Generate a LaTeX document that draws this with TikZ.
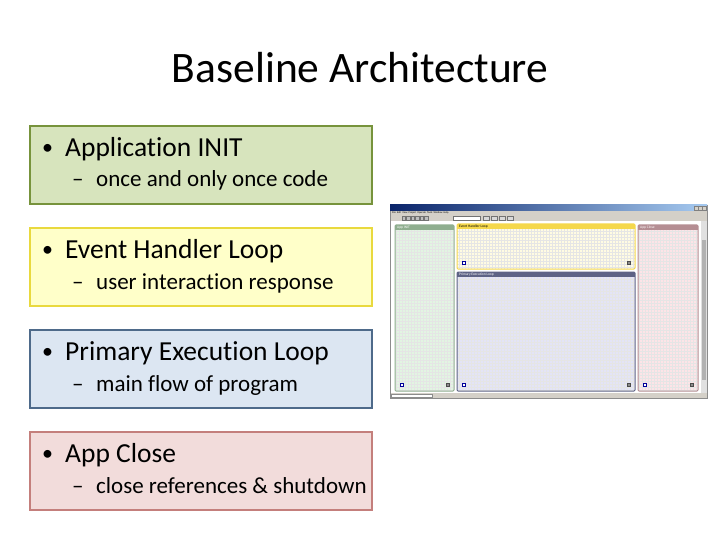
\documentclass[tikz,border=0pt]{standalone}
\usepackage{fontspec}
\setmainfont[Ligatures=NoCommon]{Carlito}
\usetikzlibrary{positioning,calc}
\definecolor{cGf}{HTML}{D7E4BD}
\definecolor{cGl}{HTML}{77933C}
\definecolor{cYf}{HTML}{FFFFC9}
\definecolor{cYl}{HTML}{E9D93E}
\definecolor{cBf}{HTML}{DCE6F2}
\definecolor{cBl}{HTML}{4E6A8A}
\definecolor{cRf}{HTML}{F2DCDB}
\definecolor{cRl}{HTML}{C47F7C}
\definecolor{wTitle}{HTML}{0A246A}
\definecolor{wTitleR}{HTML}{A6CAF0}
\definecolor{wGrey}{HTML}{D4D0C8}
\definecolor{pGf}{HTML}{E2F5E2}
\definecolor{pGh}{HTML}{8FAE8F}
\definecolor{pYf}{HTML}{FFFBE2}
\definecolor{pYh}{HTML}{F5D84C}
\definecolor{pBf}{HTML}{E3E4F7}
\definecolor{pBh}{HTML}{5E6385}
\definecolor{pRf}{HTML}{FDE4E7}
\definecolor{pRh}{HTML}{B58E93}
\tikzset{itembox/.style={
  shape=rectangle,
  line width=1.2pt,
  minimum width=342pt,
  minimum height=78pt,
  inner sep=0pt,
  outer sep=0pt,
  }
}
\tikzset{headtext/.style={
  font=\fontsize{27.5}{30}\selectfont,
  anchor=base west,
  inner sep=0pt,
  }
}
\tikzset{subtext/.style={
  font=\fontsize{23}{26}\selectfont,
  anchor=base west,
  inner sep=0pt,
  }
}
\tikzset{paneltext/.style={
  font=\fontsize{3.6}{4}\selectfont,
  anchor=west,
  inner sep=0pt,
  }
}
\begin{document}
\begin{tikzpicture}[x=1pt,y=-1pt]
  \useasboundingbox[fill=white] (0,0) rectangle (720,540);

  \node[font=\fontsize{43.5}{48}\selectfont, anchor=base, inner sep=0pt] (title) at (360,83) {Baseline Architecture};

  % the four parts
  \node[itembox, draw=cGl, fill=cGf, anchor=north west] (init) at (30,126) {};
  \node[itembox, draw=cYl, fill=cYf, below=24pt of init] (event) {};
  \node[itembox, draw=cBl, fill=cBf, below=24pt of event] (exec) {};
  \node[itembox, draw=cRl, fill=cRf, below=24pt of exec] (close) {};

  \foreach \b/\h/\s in {init/Application INIT/once and only once code,
                        event/Event Handler Loop/user interaction response,
                        exec/Primary Execution Loop/main flow of program,
                        close/App Close/close references \& shutdown} {
    \node[headtext, font=\fontsize{22}{24}\selectfont] (\b-dot) at ($(\b.north west)+(12,28.5)$) {•};
    \node[headtext] (\b-head) at ($(\b.north west)+(35,30.5)$) {\h};
    \node[subtext] (\b-dash) at ($(\b.north west)+(42,61)$) {–};
    \node[subtext] (\b-sub) at ($(\b.north west)+(66,61)$) {\s};
  }

  % screenshot of the block diagram
  \draw[black!45, fill=wGrey] (390,205) rectangle (707,398);
  \shade[left color=wTitle, right color=wTitleR] (390,205) rectangle (707,211);
  \foreach \k in {0,1,2} {
    \draw[black!50, fill=wGrey, line width=0.2pt] (694+\k*4.2,206) rectangle ++(3.6,4);
  }
  \node[paneltext, font=\fontsize{2.6}{3}\selectfont] (menu) at (392,213) {File\ \ Edit\ \ View\ \ Project\ \ Operate\ \ Tools\ \ Window\ \ Help};
  \foreach \k in {0,...,5} {
    \draw[black!55, fill=black!25, line width=0.2pt] (402+\k*4.5,216.5) rectangle ++(3.2,3.2);
  }
  \draw[black!55, fill=white, line width=0.2pt] (453,216.5) rectangle (480,219.8);
  \foreach \k in {0,...,3} {
    \draw[black!55, fill=black!15, line width=0.2pt] (483+\k*8,216.5) rectangle ++(6.5,3.3);
  }
  \fill[white] (391,221) rectangle (701,393);
  \fill[black!12] (701,221) rectangle (707,393);
  \fill[black!30] (702,240) rectangle (706,380);
  \draw[black!45, fill=white, line width=0.2pt] (391,394) rectangle (432,397.5);

  \foreach \x/\y/\X/\Y/\pf/\ph/\tc/\lab [count=\i] in
      {395/225/454/391/pGf/pGh/white/App INIT,
       457/224/635/269/pYf/pYh/black/Event Handler Loop,
       457/272/635/391/pBf/pBh/white/Primary Execution Loop,
       638/225/698/391/pRf/pRh/white/App Close} {
    \fill[\pf] (\x,\y) rectangle (\X,\Y);
    \begin{scope}
      \clip (\x,\y) rectangle (\X,\Y);
      \draw[black!10, line width=0.25pt, step=3pt] (\x,\y) grid (\X,\Y);
    \end{scope}
    \fill[\ph] (\x,\y) rectangle (\X,\y+5);
    \draw[\ph, line width=1pt, rounded corners=1pt] (\x,\y) rectangle (\X,\Y);
    \node[paneltext, text=\tc] (panel-\i) at (\x+2,\y+2.6) {\lab};
    \draw[blue!60!black, fill=white, line width=0.3pt] (\x+5,\Y-8) rectangle ++(3.5,3.5);
    \draw[black!70, fill=black!45, line width=0.3pt] (\X-8,\Y-8) rectangle ++(3.5,3.5);
  }
\end{tikzpicture}
\end{document}
